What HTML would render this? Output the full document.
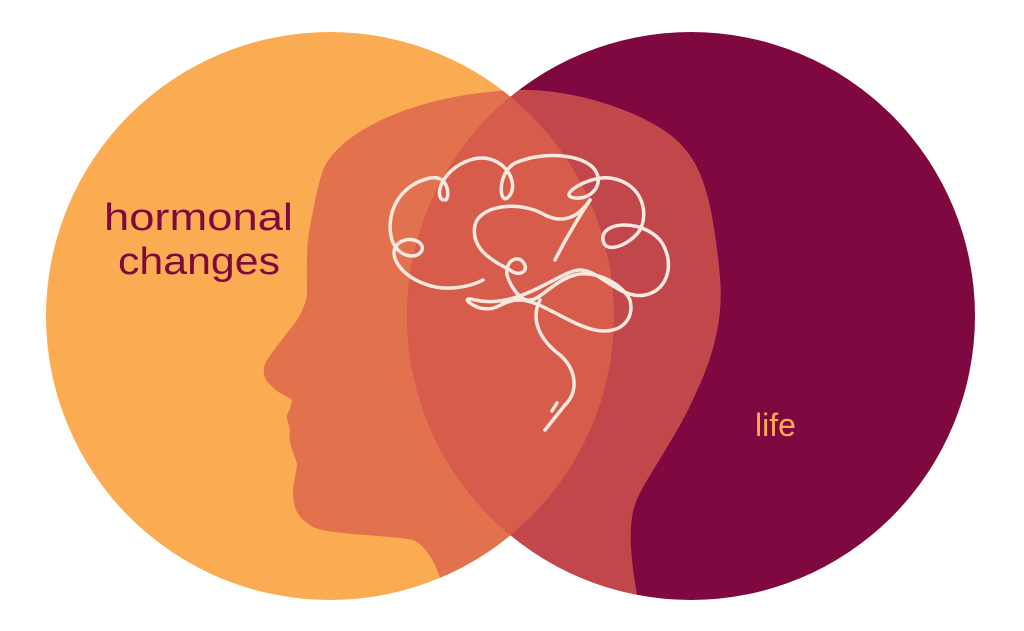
<!DOCTYPE html>
<html><head><style>html,body{margin:0;padding:0;background:#fff}svg{display:block}</style></head>
<body>
<svg width="1024" height="631" viewBox="0 0 1024 631" xmlns="http://www.w3.org/2000/svg">
<defs>
<clipPath id="rc"><circle cx="691" cy="316" r="284"/></clipPath>
<clipPath id="lc"><circle cx="330" cy="316" r="284"/></clipPath>
<path id="head" d="M517,90 C570,88 640,110 673,137 C700,160 712,190 720,277 C724,320 712,360 695,395 C680,430 655,465 640,493 C628,515 628,545 638,600 L445,600 C440,565 425,545 413,540 C390,535 330,535 313,527 C298,518 293,510 293,490 C294,480 297,470 297,463 C292,450 288,440 290,432 C290,425 286,420 287,415 C292,405 292,400 292,400 C285,395 276,392 273,387 C262,380 262,368 267,360 C277,345 290,330 297,320 C303,310 307,300 307,293 C307,270 306,245 310,227 C315,200 318,185 323,170 C340,130 420,93 517,90 Z"/>
</defs>
<circle cx="330" cy="316" r="284" fill="#fbab51"/>
<circle cx="691" cy="316" r="284" fill="#7e083f"/>
<g clip-path="url(#lc)"><use href="#head" fill="#e2714e"/></g>
<g clip-path="url(#rc)"><use href="#head" fill="#c1474a"/>
<g clip-path="url(#lc)"><use href="#head" fill="#d75c4b"/></g></g>
<text x="104" y="230" font-family="Liberation Sans, sans-serif" font-size="38" fill="#7e083f" textLength="189" lengthAdjust="spacingAndGlyphs">hormonal</text>
<text x="118" y="274" font-family="Liberation Sans, sans-serif" font-size="38" fill="#7e083f" textLength="162" lengthAdjust="spacingAndGlyphs">changes</text>
<text x="755" y="436" font-family="Liberation Sans, sans-serif" font-size="32" fill="#fbab51">life</text>
<g fill="none" stroke="#f7e9e0" stroke-width="3.5" stroke-linecap="round" stroke-linejoin="round">
<path d="M483,280 C470,287 445,292 425,284 C400,275 388,255 397,245 C405,235 425,240 422,250 C418,260 398,258 392,240 C385,215 398,185 430,178 C450,174 450,200 445,200 C433,200 440,170 470,160 C500,150 520,180 510,195 C500,210 495,175 515,163 C545,150 585,155 595,170 C605,185 590,200 575,198 C555,196 590,175 610,178 C640,182 650,210 640,230 C630,245 605,255 603,240 C600,222 640,218 660,240 C675,260 670,290 645,295 C620,300 600,270 580,270 C560,270 520,310 475,300 C460,296 470,305 480,308 C500,312 500,300 520,300 C540,300 570,325 595,330 C620,335 635,320 630,300 C620,280 590,270 575,275 C555,280 540,300 530,300 C520,302 510,285 507,275 C505,260 518,255 523,262 C530,270 520,278 510,270 C495,262 470,250 475,225 C480,205 520,200 545,215 C565,225 580,215 590,200"/>
<path d="M590,200 C580,215 565,240 555,260"/>
<path d="M540,300 C530,320 540,340 560,355 C575,368 580,390 565,405 L545,430"/>
<path d="M557,403 L552,411"/>
</g>
</svg>
</body></html>
